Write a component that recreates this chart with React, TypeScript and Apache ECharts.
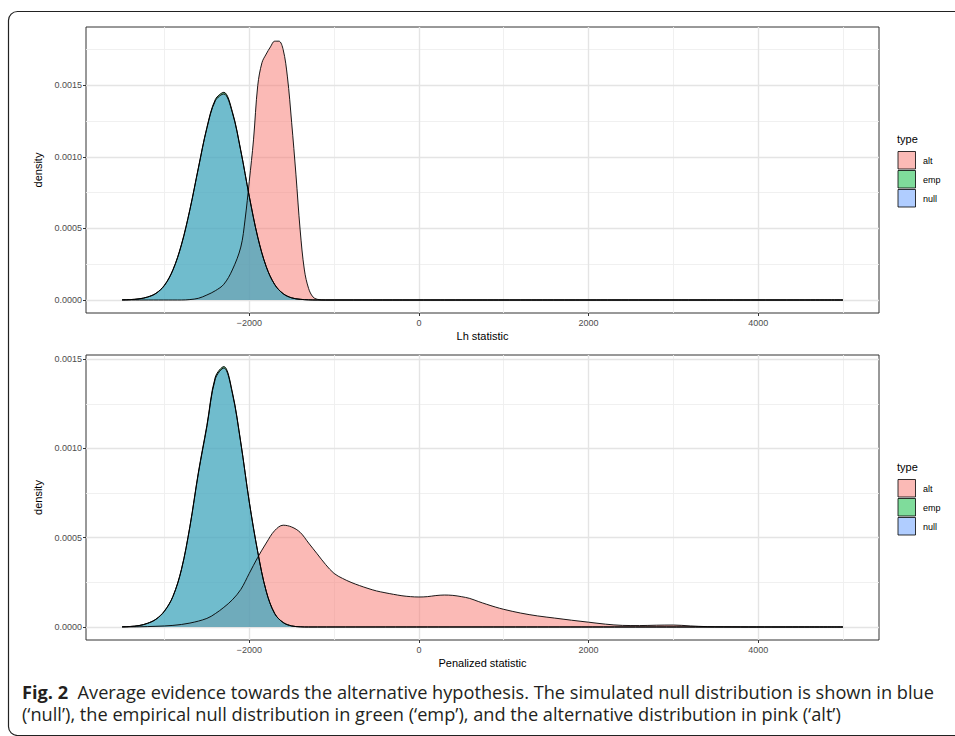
import React, { useEffect, useRef } from "react";
import * as echarts from "echarts";

// ---------- data ----------
const xTicks = [-2000, 0, 2000, 4000];
const xMinorGrid = [-3000, -1000, 1000, 3000, 5000];
const yTicks = [0, 0.0005, 0.001, 0.0015];
const yMinorTop = [0.00025, 0.00075, 0.00125, 0.00175];
const yMinorBottom = [0.00025, 0.00075, 0.00125];
const seriesNames = ["alt", "emp", "null"];
const fillColors = ["#F8766D", "#00BA38", "#619CFF"];
const keyColors = ["rgba(248,118,109,0.5)", "rgba(0,186,56,0.5)", "rgba(97,156,255,0.5)"];

// Top panel: Lh statistic
const topNullX = [-3500, -3400, -3300, -3200, -3100, -3000, -2900, -2800, -2700, -2600, -2500, -2400, -2300, -2200, -2100, -2000, -1900, -1800, -1700, -1600, -1500, -1400, -1300, -1200, 5000];
const topNullY = [0.000001, 0.000003, 0.000008, 0.00002, 0.000046, 0.000101, 0.000209, 0.000384, 0.00063, 0.000921, 0.0012, 0.001393, 0.001441, 0.001311, 0.001042, 0.000724, 0.000439, 0.000233, 0.000108, 0.000044, 0.000015, 0.000005, 0.000001, 0, 0];
const topEmpY = [0.000001, 0.000003, 0.000008, 0.000021, 0.000047, 0.000104, 0.000212, 0.000388, 0.000634, 0.000925, 0.001205, 0.001402, 0.001452, 0.001318, 0.001046, 0.000726, 0.00044, 0.000234, 0.000108, 0.000044, 0.000015, 0.000005, 0.000001, 0, 0];
const topAltX = [-3500, -2800, -2700, -2600, -2500, -2400, -2300, -2200, -2100, -2050, -2000, -1950, -1900, -1850, -1800, -1750, -1700, -1650, -1600, -1550, -1500, -1450, -1400, -1350, -1300, -1250, -1200, -1100, 5000];
const topAltY = [0, 0, 0.000003, 0.000012, 0.000035, 0.000065, 0.00011, 0.00021, 0.00037, 0.00056, 0.00083, 0.00112, 0.0015, 0.00166, 0.00172, 0.00177, 0.00181, 0.00181, 0.00175, 0.00156, 0.00124, 0.00088, 0.00049, 0.00021, 0.00008, 0.000022, 0.000005, 0, 0];

// Bottom panel: Penalized statistic
const botNullX = [-3500, -3400, -3300, -3200, -3100, -3000, -2900, -2800, -2700, -2600, -2500, -2400, -2300, -2200, -2100, -2000, -1900, -1800, -1700, -1600, -1500, -1400, -1300, 5000];
const botNullY = [0.000001, 0.000003, 0.000008, 0.00002, 0.000043, 0.000088, 0.00017, 0.00032, 0.00056, 0.00086, 0.00112, 0.00139, 0.00145, 0.00131, 0.00103, 0.0007, 0.00042, 0.0002, 0.000075, 0.000025, 0.000006, 0.000001, 0, 0];
const botEmpY = [0.000001, 0.000003, 0.000008, 0.000021, 0.000044, 0.00009, 0.000172, 0.000323, 0.000564, 0.000866, 0.001128, 0.0014, 0.001458, 0.001316, 0.001034, 0.000702, 0.000421, 0.0002, 0.000075, 0.000025, 0.000006, 0.000001, 0, 0];
const botAltX = [-3500, -3300, -3100, -2900, -2700, -2500, -2400, -2300, -2200, -2100, -2000, -1900, -1800, -1700, -1600, -1500, -1400, -1300, -1200, -1100, -1000, -900, -800, -700, -600, -500, -400, -300, -200, -100, 0, 100, 200, 300, 400, 500, 600, 700, 800, 900, 1000, 1200, 1400, 1600, 1800, 2000, 2200, 2400, 2600, 2800, 3000, 3200, 3400, 3600, 4000, 5000];
const botAltY = [0, 0.000001, 0.000004, 0.000009, 0.000022, 0.000048, 0.000075, 0.00011, 0.000152, 0.00021, 0.0003, 0.00039, 0.00047, 0.00054, 0.00057, 0.00056, 0.00053, 0.00047, 0.00041, 0.00035, 0.0003, 0.000272, 0.00025, 0.000232, 0.000216, 0.000202, 0.000192, 0.000183, 0.000175, 0.00017, 0.000168, 0.00017, 0.000176, 0.000179, 0.000177, 0.00017, 0.00016, 0.000143, 0.000127, 0.000112, 0.000099, 0.000078, 0.000062, 0.00005, 0.000038, 0.000027, 0.000016, 0.000009, 0.000008, 0.00001, 0.000011, 0.000006, 0.000002, 0.000001, 0, 0];

const xRange = [-3925, 5425];
const yRangeTop = [-0.0000909, 0.001909];
const yRangeBottom = [-0.0000728, 0.001523];

const axisTitles = ["Lh statistic", "Penalized statistic"];
const captionBold = "Fig. 2";
const captionLine1 = "Average evidence towards the alternative hypothesis. The simulated null distribution is shown in blue";
const captionLine2 = "(\u2018null\u2019), the empirical null distribution in green (\u2018emp\u2019), and the alternative distribution in pink (\u2018alt\u2019)";

const FONT = "'Liberation Sans', Arial, sans-serif";
const CAPFONT = "'Open Sans', sans-serif";

function pairs(xs: number[], ys: number[]) {
  return xs.map((x, i) => [x, ys[i]]);
}

function densitySeries(name: string, xs: number[], ys: number[], color: string, idx: number, width: number) {
  return {
    type: "line",
    name,
    xAxisIndex: idx,
    yAxisIndex: idx,
    data: pairs(xs, ys),
    symbol: "none",
    smooth: 0.35,
    silent: true,
    z: 3,
    lineStyle: { color: "#000", width },
    itemStyle: { color },
    areaStyle: { color, opacity: 0.5 },
  };
}

function gridSeries(idx: number, yMinor: number[]) {
  const major = { color: "#E4E4E4", width: 1.4, type: "solid", opacity: 1 };
  const minor = { color: "#EEEEEE", width: 0.9, type: "solid", opacity: 1 };
  return {
    type: "line",
    name: "grid" + idx,
    xAxisIndex: idx,
    yAxisIndex: idx,
    data: [],
    silent: true,
    z: 1,
    markLine: {
      silent: true,
      symbol: "none",
      precision: 8,
      z: 1,
      animation: false,
      label: { show: false },
      emphasis: { disabled: true },
      data: [
        ...xMinorGrid.map((v) => ({ xAxis: v, lineStyle: minor })),
        ...yMinor.map((v) => ({ yAxis: v, lineStyle: minor })),
        ...xTicks.map((v) => ({ xAxis: v, lineStyle: major })),
        ...yTicks.map((v) => ({ yAxis: v, lineStyle: major })),
      ],
    },
  };
}

function xAxisCfg(idx: number) {
  return {
    gridIndex: idx,
    type: "value",
    position: "bottom",
    min: xRange[0],
    max: xRange[1],
    splitLine: { show: false },
    axisLine: { show: false, onZero: false },
    axisTick: { show: true, length: 3, lineStyle: { color: "#333", width: 1 }, customValues: xTicks },
    axisLabel: {
      customValues: xTicks,
      fontSize: 9,
      color: "#4D4D4D",
      fontFamily: FONT,
      margin: 5,
      formatter: (v: number) => (v < 0 ? "\u2212" + Math.abs(v) : String(v)),
    },
    name: axisTitles[idx],
    nameLocation: "middle",
    nameGap: 17,
    nameTextStyle: { fontSize: 11, color: "#000", fontFamily: FONT },
  };
}

function yAxisCfg(idx: number, range: number[]) {
  return {
    gridIndex: idx,
    type: "value",
    position: "left",
    min: range[0],
    max: range[1],
    splitLine: { show: false },
    axisLine: { show: false, onZero: false },
    axisTick: { show: true, length: 3, lineStyle: { color: "#333", width: 1 }, customValues: yTicks },
    axisLabel: {
      customValues: yTicks,
      fontSize: 9,
      color: "#4D4D4D",
      fontFamily: FONT,
      margin: 4,
      formatter: (v: number) => v.toFixed(4),
    },
    name: "density",
    nameLocation: "middle",
    nameGap: 40,
    nameTextStyle: { fontSize: 11, color: "#000", fontFamily: FONT },
  };
}

function legendGraphic(titleY: number, keyTop: number) {
  const items: any[] = [
    { type: "text", x: 897, y: titleY, style: { text: "type", fontSize: 11, fontFamily: FONT, fill: "#000", verticalAlign: "middle" } },
  ];
  seriesNames.forEach((n, i) => {
    const y = keyTop + i * 19;
    items.push({
      type: "rect",
      shape: { x: 898, y, width: 17.5, height: 17.5 },
      style: { fill: keyColors[i], stroke: "#000", lineWidth: 0.8 },
    });
    items.push({
      type: "text",
      x: 923,
      y: y + 9,
      style: { text: n, fontSize: 9, fontFamily: FONT, fill: "#000", verticalAlign: "middle" },
    });
  });
  return items;
}

export default function App() {
  const ref = useRef<HTMLDivElement>(null);
  useEffect(() => {
    if (!ref.current) return;
    const chart = echarts.init(ref.current, null, { renderer: "svg" });
    const option: any = {
      animation: false,
      backgroundColor: "#fff",
      textStyle: { fontFamily: FONT },
      grid: [
        { left: 86, top: 27, width: 793, height: 286, show: true, borderColor: "#333", borderWidth: 1, backgroundColor: "transparent", containLabel: false },
        { left: 86, top: 355, width: 793, height: 285, show: true, borderColor: "#333", borderWidth: 1, backgroundColor: "transparent", containLabel: false },
      ],
      xAxis: [xAxisCfg(0), xAxisCfg(1)],
      yAxis: [yAxisCfg(0, yRangeTop), yAxisCfg(1, yRangeBottom)],
      series: [
        gridSeries(0, yMinorTop),
        gridSeries(1, yMinorBottom),
        densitySeries("alt", topAltX, topAltY, fillColors[0], 0, 0.9),
        densitySeries("emp", topNullX, topEmpY, fillColors[1], 0, 1),
        densitySeries("null", topNullX, topNullY, fillColors[2], 0, 1),
        densitySeries("alt", botAltX, botAltY, fillColors[0], 1, 0.9),
        densitySeries("emp", botNullX, botEmpY, fillColors[1], 1, 1),
        densitySeries("null", botNullX, botNullY, fillColors[2], 1, 1),
      ],
      graphic: [
        {
          type: "rect",
          silent: true,
          shape: { x: 8.5, y: 11.5, width: 1000, height: 724, r: 9 },
          style: { fill: "none", stroke: "#222", lineWidth: 1.2 },
          z: -1,
        },
        ...legendGraphic(139, 151.5),
        ...legendGraphic(467, 479.5),
        {
          type: "text",
          x: 22,
          y: 691.5,
          style: {
            text: "{b|" + captionBold + "}  " + captionLine1,
            fontSize: 18.2,
            lineHeight: 20,
            fontFamily: CAPFONT,
            fill: "#231F20",
            verticalAlign: "middle",
            rich: { b: { fontWeight: "bold", fontSize: 18.2, lineHeight: 20, fontFamily: CAPFONT, fill: "#231F20" } },
          },
        },
        {
          type: "text",
          x: 22,
          y: 714,
          style: {
            text: captionLine2,
            fontSize: 18.2,
            lineHeight: 20,
            fontFamily: CAPFONT,
            fill: "#231F20",
            verticalAlign: "middle",
          },
        },
      ],
    };
    chart.setOption(option);
    return () => chart.dispose();
  }, []);
  return (
    <div
      ref={ref}
      style={{ position: "absolute", left: 0, top: 0, width: 955, height: 736, background: "#fff" }}
    />
  );
}
